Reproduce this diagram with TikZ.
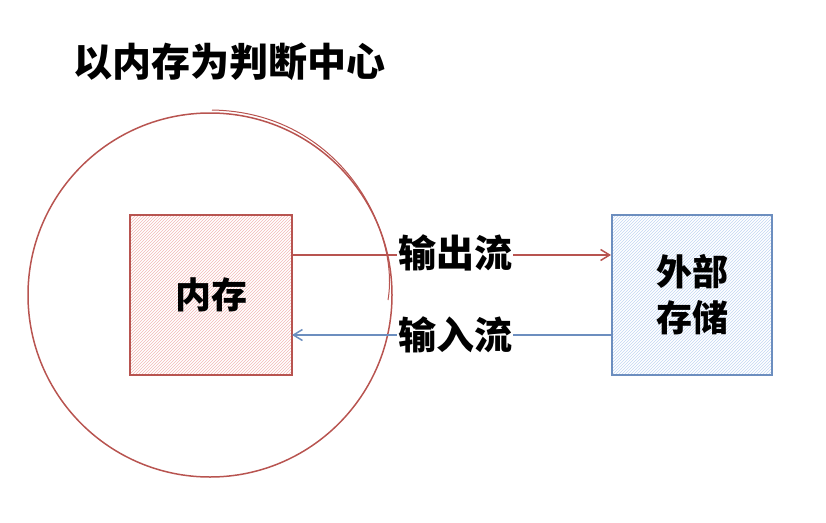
\documentclass[tikz,border=0pt]{standalone}
\usepackage{fontspec}
\newfontfamily\cjk{Noto Sans CJK SC Black}
\usetikzlibrary{patterns,arrows.meta}
\definecolor{redc}{HTML}{B85450}
\definecolor{redf}{HTML}{F2B8B6}
\definecolor{bluec}{HTML}{6C8EBF}
\definecolor{bluef}{HTML}{C2D6F2}
\tikzset{
  lbl/.style={font=\cjk\fontsize{38}{42}\selectfont, fill=white, inner sep=1pt},
  redbox/.style={draw=redc, line width=1.5pt, pattern=north east lines, pattern color=redf, minimum width=162pt, minimum height=160pt},
  bluebox/.style={draw=bluec, line width=1.5pt, pattern=north east lines, pattern color=bluef, minimum width=160pt, minimum height=160pt},
  conn/.style={line width=1.5pt, -{Straight Barb[length=9pt,width=11pt]}}
}
\begin{document}
\begin{tikzpicture}[x=1pt,y=-1pt]
\useasboundingbox (0,0) rectangle (826,522);
\node[font=\cjk\fontsize{39}{42}\selectfont, anchor=west] (title) at (70,62) {以内存为判断中心};
\node[draw=redc, line width=1.5pt, circle, minimum size=364pt] (c) at (210,295) {};
\draw[redc, line width=1pt] (212,110) .. controls (340,112) and (400,230) .. (388,300);
\node[redbox] (mem) at (211,295) {};
\node[font=\cjk\fontsize{36}{40}\selectfont] at (mem) {内存};
\node[bluebox] (ext) at (692,295) {};
\node[font=\cjk\fontsize{36}{46}\selectfont, align=center] at (ext) {外部\\存储};
\coordinate (o1) at (292,255);
\coordinate (o2) at (611,255);
\coordinate (i1) at (612,335);
\coordinate (i2) at (292,335);
\draw[conn, redc] (o1) -- (o2);
\draw[conn, bluec] (i1) -- (i2);
\node[lbl] (out) at (455,253) {输出流};
\node[lbl] (in) at (455,335) {输入流};
\end{tikzpicture}
\end{document}
